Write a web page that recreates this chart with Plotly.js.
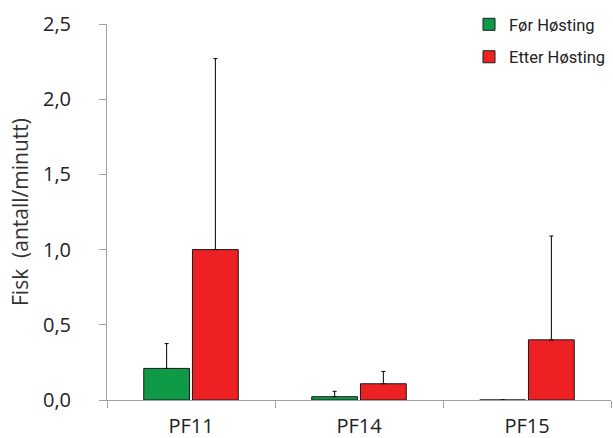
<!DOCTYPE html>
<html><head><meta charset="utf-8">
<script src="https://cdn.plot.ly/plotly-3.0.1.min.js"></script>
<style>body{margin:0;background:#fff}#c{width:613px;height:438px}</style>
</head><body><div id="c"></div>
<script>
const categories = ['PF11', 'PF14', 'PF15'];
const seriesNames = ['Før Høsting', 'Etter Høsting'];
const forValues = [0.21, 0.022, 0.0];
const forErrors = [0.165, 0.036, 0.0];
const etterValues = [1.0, 0.108, 0.40];
const etterErrors = [1.27, 0.082, 0.69];
const yTickVals = [0, 0.5, 1, 1.5, 2, 2.5];
const yTickText = ['0,0', '0,5', '1,0', '1,5', '2,0', '2,5'];
const boundaryTicks = [-0.5, 0.5, 1.5, 2.5];

const font = '"Open Sans", Roboto, sans-serif';
const legendFont = 'Roboto, "Open Sans", sans-serif';
function bar(name, y, err, color, group) {
  return {
    type: 'bar', name: name, x: categories, y: y, legendgroup: group,
    marker: {color: color, line: {color: '#1a1a1a', width: 1}},
    error_y: {type: 'data', symmetric: false, array: err, arrayminus: err.map(() => 0),
      color: '#000', thickness: 1, width: 2}
  };
}
const data = [
  bar(seriesNames[0], forValues, forErrors, '#0f9a48', 'a'),
  bar(seriesNames[1], etterValues, etterErrors, '#ed2024', 'b')
];
const layout = {
  width: 613, height: 438,
  margin: {l: 107, r: 2, t: 24, b: 38},
  paper_bgcolor: '#fff', plot_bgcolor: '#fff',
  font: {family: font, color: '#222', size: 16},
  barmode: 'group', bargap: 0.42, bargroupgap: 0.06,
  showlegend: true,
  legend: {x: 1.0, xanchor: 'right', y: 1.045, yanchor: 'top', bgcolor: 'rgba(0,0,0,0)',
    font: {family: legendFont, size: 16.5, color: '#222'}, itemwidth: 30,
    traceorder: 'grouped', tracegroupgap: 8},
  xaxis: {type: 'category', range: [-0.5, 2.5], showgrid: false, zeroline: false,
    showline: true, linecolor: '#a0a0a0', linewidth: 1,
    tickson: 'boundaries', ticks: 'outside', ticklen: 7, tickcolor: '#a0a0a0',
    tickfont: {size: 20, family: font, color: '#222'}, ticklabelstandoff: 8},
  xaxis2: {overlaying: 'x', anchor: 'y', side: 'bottom', range: [-0.5, 2.5],
    tickmode: 'array', tickvals: boundaryTicks, showticklabels: false,
    ticks: 'inside', ticklen: 8, tickcolor: '#a0a0a0', showgrid: false, zeroline: false, showline: false},
  yaxis: {range: [0, 2.5], showgrid: false, zeroline: false,
    showline: true, linecolor: '#a0a0a0', linewidth: 1,
    tickmode: 'array', tickvals: yTickVals, ticktext: yTickText,
    ticks: 'outside', ticklen: 7, tickcolor: '#a0a0a0',
    tickfont: {size: 20, family: font, color: '#222'}, ticklabelstandoff: 24,
    title: {text: 'Fisk  (antall/minutt)', font: {size: 21, family: font, color: '#333'}, standoff: 8}}
};
Plotly.newPlot('c', data, layout, {displayModeBar: false, staticPlot: true});
</script></body></html>
